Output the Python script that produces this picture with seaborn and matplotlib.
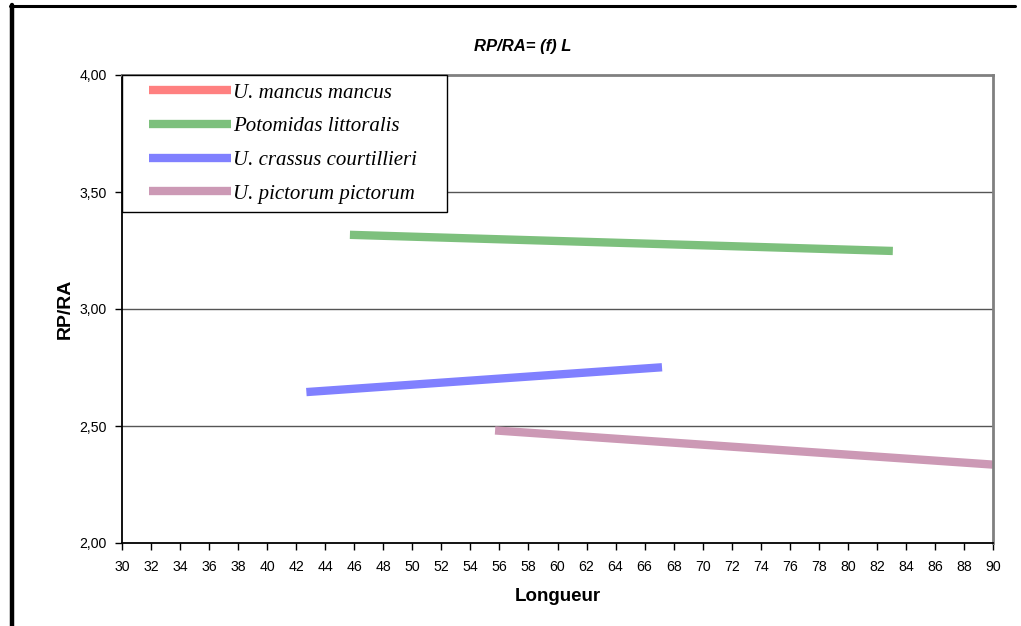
import matplotlib
matplotlib.use("Agg")
import matplotlib.pyplot as plt
from matplotlib.lines import Line2D
from matplotlib.legend_handler import HandlerLine2D
from matplotlib.ticker import FuncFormatter
import seaborn as sns
import pandas as pd

# Fitted RP/RA vs shell length lines (end points of each regression line)
species = ["U. mancus mancus", "Potomidas littoralis",
           "U. crassus courtillieri", "U. pictorum pictorum"]
colors = ["#FF8080", "#7DC07D", "#8080FF", "#CC99B5"]

longueur_mancus = []
rpra_mancus = []
longueur_potomidas = [45.7, 83.1]
rpra_potomidas = [3.317, 3.248]
longueur_crassus = [42.7, 67.2]
rpra_crassus = [2.645, 2.751]
longueur_pictorum = [55.7, 90.0]
rpra_pictorum = [2.481, 2.335]

x_ticks = list(range(30, 91, 2))
y_ticks = [2.0, 2.5, 3.0, 3.5, 4.0]

series = [
    (species[0], longueur_mancus, rpra_mancus),
    (species[1], longueur_potomidas, rpra_potomidas),
    (species[2], longueur_crassus, rpra_crassus),
    (species[3], longueur_pictorum, rpra_pictorum),
]

sns.set_theme(style="white")
plt.rcParams["font.family"] = ["Liberation Sans", "DejaVu Sans"]
plt.rcParams["text.color"] = "black"
plt.rcParams["axes.labelcolor"] = "black"
plt.rcParams["xtick.color"] = "black"
plt.rcParams["ytick.color"] = "black"

fig = plt.figure(figsize=(10.21, 6.26), dpi=100)
ax = fig.add_axes([122 / 1021, 1 - 543 / 626, (993 - 122) / 1021, (543 - 75) / 626])

lw = 6.0
handles = []
for (name, xs, ys), col in zip(series, colors):
    if len(xs):
        df = pd.DataFrame({"Longueur": xs, "RP/RA": ys})
        sns.lineplot(data=df, x="Longueur", y="RP/RA", ax=ax, color=col,
                     linewidth=lw, solid_capstyle="butt", legend=False)
    handles.append(Line2D([], [], color=col, linewidth=lw,
                          solid_capstyle="butt", label=name))

ax.set_xlim(30, 90)
ax.set_ylim(2.0, 4.0)
ax.set_xticks(x_ticks)
ax.set_yticks(y_ticks)
ax.yaxis.set_major_formatter(FuncFormatter(lambda v, p: f"{v:.2f}".replace(".", ",")))
ax.tick_params(axis="both", direction="out", length=5, width=1, color="black",
               labelsize=10.2, labelcolor="black")
ax.tick_params(axis="x", pad=7, bottom=True)
ax.tick_params(axis="y", pad=6, left=True)

# horizontal gridlines only
ax.grid(False)
for yv in y_ticks[1:-1]:
    ax.axhline(yv, color="#555555", linewidth=1, zorder=0.5)

for side in ("left", "bottom"):
    ax.spines[side].set_color("black")
    ax.spines[side].set_linewidth(1.3)
for side in ("top", "right"):
    ax.spines[side].set_color("#808080")
    ax.spines[side].set_linewidth(2)

ax.set_xlabel("Longueur", fontsize=13.5, fontweight="bold", labelpad=10)
ax.set_ylabel("RP/RA", fontsize=14, fontweight="bold", labelpad=4)

fig.text(523 / 1021, 1 - 47 / 626, "RP/RA= (f) L", ha="center", va="center",
         fontsize=12, fontweight="bold", fontstyle="italic")

leg = ax.legend(handles=handles, loc="upper left",
                bbox_to_anchor=(0, 1, (447 - 122) / (993 - 122), 0),
                mode="expand", borderaxespad=0, frameon=True, fancybox=False,
                edgecolor="black", facecolor="white", framealpha=1,
                prop={"family": "Liberation Serif", "style": "italic", "size": 15},
                handlelength=4.85, handletextpad=0.1, labelspacing=0.68,
                borderpad=0.38,
                handler_map={Line2D: HandlerLine2D(xpad=0.9)})
leg.get_frame().set_linewidth(1.0)
leg.set_zorder(5)

# page border lines around the chart area
fig.add_artist(Line2D([12 / 1021, 12 / 1021], [1 - 5 / 626, 0], color="black",
                      linewidth=3.2, transform=fig.transFigure))
fig.add_artist(Line2D([10 / 1021, 1015 / 1021], [1 - 6 / 626, 1 - 6 / 626],
                      color="black", linewidth=2.2, transform=fig.transFigure))

fig.savefig("out.png", dpi=100)
